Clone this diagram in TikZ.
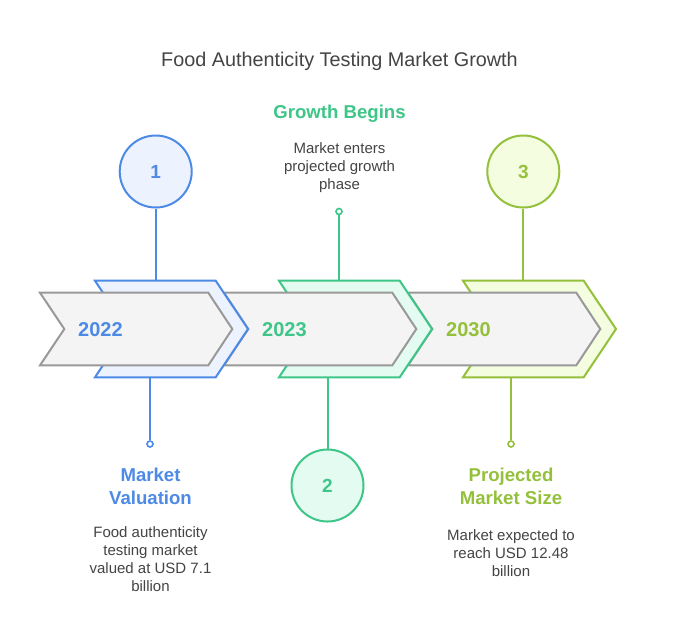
\documentclass[tikz,border=0pt]{standalone}
\usepackage{fontspec}
\setmainfont{Liberation Sans}
\definecolor{cblue}{HTML}{4D8AE6}
\definecolor{fblue}{HTML}{EDF3FE}
\definecolor{cgreen}{HTML}{3DC687}
\definecolor{fgreen}{HTML}{E3FBF0}
\definecolor{clime}{HTML}{94C03C}
\definecolor{flime}{HTML}{F4FDE0}
\definecolor{cgray}{HTML}{999999}
\definecolor{fgray}{HTML}{F4F4F4}
\definecolor{ctext}{HTML}{444444}
\tikzset{
  graychev/.style={draw=cgray, fill=fgray, line width=2pt, line join=miter},
  numcirc/.style={circle, draw=c#1, fill=f#1, line width=2pt, minimum size=72pt, inner sep=0pt, text=c#1, font=\fontsize{19}{19}\selectfont\bfseries},
  pin/.style={circle, draw=c#1, fill=white, line width=1.6pt, minimum size=6pt, inner sep=0pt},
  conn/.style={draw=c#1, line width=2pt},
  yeartxt/.style={anchor=west, text=c#1, font=\fontsize{20}{20}\selectfont\bfseries, inner sep=0pt},
  headtxt/.style={align=center, text=c#1, font=\fontsize{18.6}{23}\selectfont\bfseries, inner sep=0pt},
  bodytxt/.style={align=center, text=ctext, font=\fontsize{15}{18}\selectfont, inner sep=0pt},
}
\newcommand\graychevron[1]{%
  \path[graychev] (40+#1,292.7) -- (208.3+#1,292.7) -- (232.3+#1,329) -- (208.3+#1,365.3) -- (40+#1,365.3) -- (64.3+#1,329) -- cycle;}
\newcommand\colchevron[2]{%
  \path[draw=c#2, fill=f#2, line width=2pt] (95+#1,280.7) -- (215.7+#1,280.7) -- (248+#1,329) -- (215.7+#1,377.3) -- (95+#1,377.3) -- (127+#1,329) -- cycle;}
\begin{document}
\begin{tikzpicture}[x=1pt,y=-1pt]
\useasboundingbox[fill=white] (0,0) rectangle (679,641);
% chevrons, back to front
\colchevron{368}{lime}
\graychevron{368}
\colchevron{184}{green}
\graychevron{184}
\colchevron{0}{blue}
\graychevron{0}
% years
\node[yeartxt=blue] (y1) at (78,329.5) {2022};
\node[yeartxt=green] (y2) at (262,329.5) {2023};
\node[yeartxt=lime] (y3) at (446,329.5) {2030};
% title
\node[text=ctext, font=\fontsize{19.8}{20}\selectfont, inner sep=0pt] (title) at (339.5,61.5) {Food Authenticity Testing Market Growth};
% circles
\node[numcirc=blue] (c1) at (155.7,171.5) {1};
\node[numcirc=green] (c2) at (327.5,485.5) {2};
\node[numcirc=lime] (c3) at (523.3,171.5) {3};
% chevron edge points
\coordinate (t1) at (155.7,280.7);
\coordinate (t2) at (327.5,377.3);
\coordinate (t3) at (523.3,280.7);
\coordinate (b1) at (150,377.3);
\coordinate (b2) at (339,280.7);
\coordinate (b3) at (511,377.3);
% pins
\node[pin=blue] (p1) at (150,444) {};
\node[pin=green] (p2) at (339,211.5) {};
\node[pin=lime] (p3) at (511,444) {};
% connectors
\draw[conn=blue] (c1.south) -- (t1);
\draw[conn=green] (t2) -- (c2.north);
\draw[conn=lime] (c3.south) -- (t3);
\draw[conn=blue] (b1) -- (p1.north);
\draw[conn=green] (b2) -- (p2.south);
\draw[conn=lime] (b3) -- (p3.north);
% texts
\node[headtxt=green] (h2) at (339.5,113.5) {Growth Begins};
\node[bodytxt] (d2) at (339.5,167.5) {Market enters\\projected growth\\phase};
\node[headtxt=blue] (h1) at (150.5,486) {Market\\Valuation};
\node[bodytxt] (d1) at (150.5,559) {Food authenticity\\testing market\\valued at USD 7.1\\billion};
\node[headtxt=lime] (h3) at (511,486) {Projected\\Market Size};
\node[bodytxt] (d3) at (511,553) {Market expected to\\reach USD 12.48\\billion};
\end{tikzpicture}
\end{document}
